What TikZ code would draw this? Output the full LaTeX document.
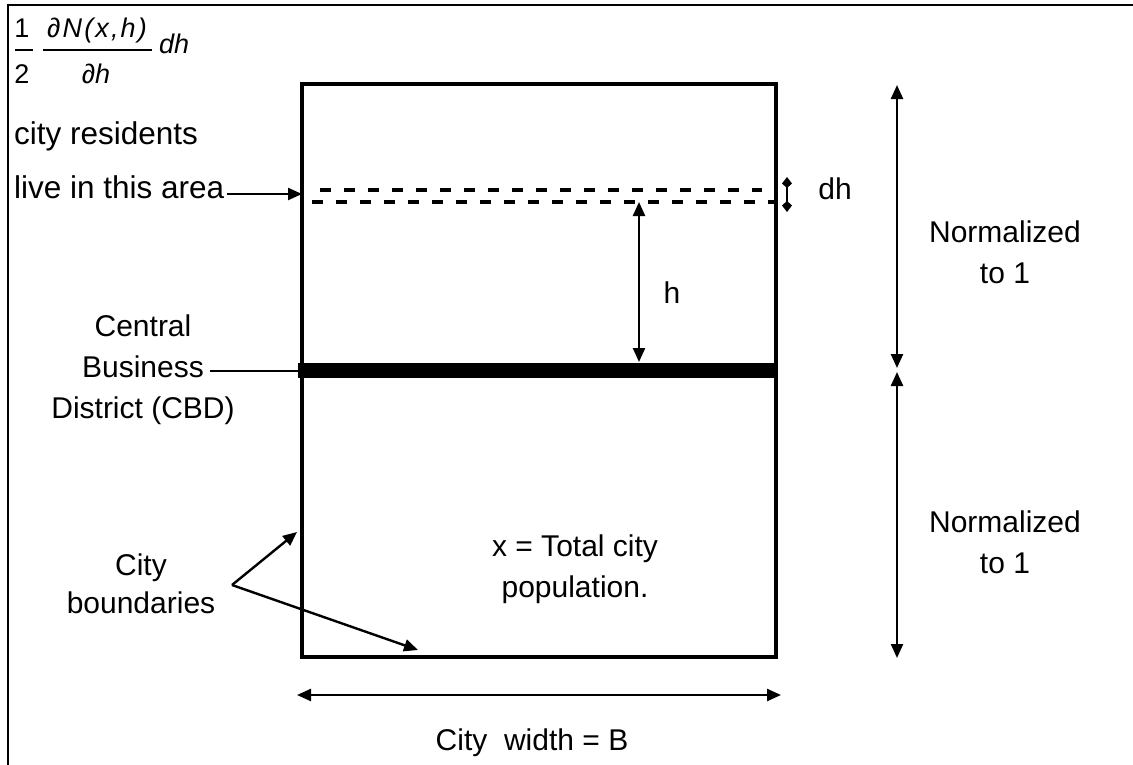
\documentclass[tikz,border=0pt]{standalone}
\usepackage{fontspec}
\setmainfont{Liberation Sans}
\usetikzlibrary{arrows.meta}
\begin{document}
\begin{tikzpicture}[x=1bp,y=-1bp,
  lbl/.style={font=\fontsize{30bp}{41bp}\selectfont, inner sep=0pt, align=center},
  lftlbl/.style={font=\fontsize{31.5bp}{41bp}\selectfont, inner sep=0pt},
  frm/.style={font=\fontsize{27bp}{30bp}\selectfont\itshape, inner sep=0pt},
  frmup/.style={font=\fontsize{27bp}{30bp}\selectfont, inner sep=0pt},
  conn/.style={line width=2.4bp},
  tipA/.style={-{Triangle[length=14bp,width=12bp]}},
  dbl/.style={{Triangle[length=14bp,width=12bp]}-{Triangle[length=14bp,width=12bp]}},
  dbls/.style={{Kite[length=11bp,width=10bp,inset=4.5bp]}-{Kite[length=11bp,width=10bp,inset=4.5bp]}},
  dashln/.style={line width=4bp, dash pattern=on 11bp off 13bp}
]
\useasboundingbox (0,0) rectangle (1133,765);
\fill[white] (0,0) rectangle (1133,765);
% frame
\draw[line width=2bp] (8,765) -- (8,5) -- (1133,5);

% city rectangle
\node[draw, line width=3.2bp, minimum width=474bp, minimum height=573bp, inner sep=0pt] (city) at (539,370.5) {};

% dashed strip
\draw[dashln] (320,190) -- (762,190);
\draw[dashln] (312,202) -- (774,202);

% CBD band
\coordinate (cbdL) at (298,370);
\coordinate (cbdR) at (778,370);
\draw[line width=15bp] (cbdL) -- (cbdR);

% formula
\node[frmup, anchor=base] (one) at (22,38) {1};
\node[frmup, anchor=base] (two) at (22,84) {2};
\draw[line width=2.5bp] (15,50) -- (33,50);
\node[frm, anchor=base] (num) at (97,38) {\addfontfeature{LetterSpace=8}∂N(x,h)};
\node[frm, anchor=base] (den) at (96,84) {∂h};
\draw[line width=2.5bp] (43,50) -- (152,50);
\node[frm, anchor=base west] (dhf) at (159,54) {dh};

% left texts
\node[lftlbl, anchor=base west] (resid) at (14,144) {city residents};
\node[lftlbl, anchor=base west] (live) at (14,198) {live in this area};
\coordinate (liveTip) at (302,194);
\draw[conn, tipA] ([xshift=2bp]live.east |- liveTip) -- (liveTip);

\node[lbl] (cbd) at (143,370) {Central\\Business\\District (CBD)};
\coordinate (cbdStart) at (210,371);
\draw[conn] (cbdStart) -- (cbdL |- cbdStart);

% h and dh
\coordinate (hTop) at (639,202);
\coordinate (hBot) at (639,362);
\draw[conn, dbl] (hTop) -- (hBot);
\node[lbl, anchor=base] (hlab) at (672,303) {h};

\coordinate (dhTop) at (787,177);
\coordinate (dhBot) at (787,212);
\draw[conn, dbls] (dhTop) -- (dhBot);
\node[lbl, anchor=base] (dhlab) at (835,199) {dh};

% normalized
\coordinate (n1Top) at (897,85);
\coordinate (n1Bot) at (897,368);
\coordinate (n2Top) at (897,372);
\coordinate (n2Bot) at (897,658);
\draw[conn, dbl] (n1Top) -- (n1Bot);
\draw[conn, dbl] (n2Top) -- (n2Bot);
\node[lbl] (norm1) at (1005,252) {Normalized\\to 1};
\node[lbl] (norm2) at (1005,542) {Normalized\\to 1};

% population
\node[lbl] (pop) at (575,569) {x = Total city\\population.};

% boundaries
\node[lbl, font=\fontsize{30bp}{38bp}\selectfont] (bound) at (141,584) {City\\boundaries};
\coordinate (bv) at (232,585);
\coordinate (bTip1) at (297,532);
\coordinate (bTip2) at (418,650);
\draw[conn, tipA] (bv) -- (bTip1);
\draw[conn, tipA] (bv) -- (bTip2);

% width
\coordinate (wL) at (297,695);
\coordinate (wR) at (781,695);
\draw[conn, dbl] (wL) -- (wR);
\node[lbl, anchor=base] (wlab) at (532,750) {City\ \ width = B};
\end{tikzpicture}
\end{document}
